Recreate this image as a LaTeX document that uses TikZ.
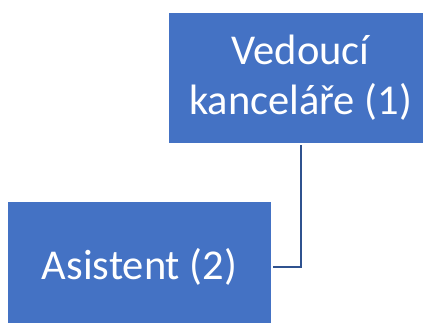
\documentclass[tikz,border=0pt]{standalone}
\usepackage{fontspec}
\setmainfont{Carlito}
\definecolor{boxblue}{HTML}{4472C4}
\definecolor{linkblue}{HTML}{2F528F}
\begin{document}
\begin{tikzpicture}[x=1pt,y=1pt,
  orgbox/.style={rectangle, fill=boxblue, text=white, minimum width=263pt,
    minimum height=130pt, inner sep=0pt, align=center,
    font=\fontsize{42.5}{50}\selectfont},
  link/.style={draw=linkblue, line width=2pt, shorten <=2pt, shorten >=2pt}]
  \useasboundingbox (0,0) rectangle (423,-323);
  \node[orgbox] (head) at (300.5,-78) {Vedoucí\\kanceláře (1)};
  \node[orgbox] (asst) at (139.5,-267) {Asistent (2)};
  \draw[link] (head.south) |- (asst.east);
\end{tikzpicture}
\end{document}
